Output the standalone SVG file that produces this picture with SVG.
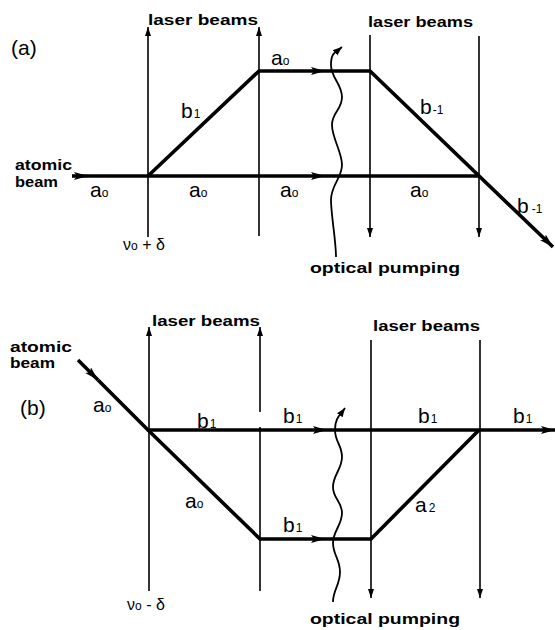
<svg xmlns="http://www.w3.org/2000/svg" width="555" height="630" viewBox="0 0 555 630">
<style>
text{font-family:"Liberation Sans",Arial,sans-serif;fill:#000}
.lb{font-weight:bold;font-size:15px}
.ab{font-weight:bold;font-size:14px}
.sym{font-size:21px}
.sub{font-size:12px}
.pl{font-size:21px}
.nu{font-size:16px}
.laser{stroke:#000;stroke-width:1.6;fill:none}
.beam{stroke:#000;stroke-width:3.6;fill:none;stroke-linecap:butt}
.wave{stroke:#000;stroke-width:1.8;fill:none}
</style>
<defs>
<marker id="la" markerUnits="userSpaceOnUse" markerWidth="10" markerHeight="7" refX="9" refY="3" orient="auto"><path d="M0,0 L9,3 L0,6 z" fill="#000"/></marker>
<marker id="ba" markerUnits="userSpaceOnUse" markerWidth="15" markerHeight="9" refX="14" refY="4" orient="auto"><path d="M0,0 L14,4 L0,8 L3,4 z" fill="#000"/></marker>
<marker id="wa" markerUnits="userSpaceOnUse" markerWidth="10" markerHeight="8" refX="9" refY="3.5" orient="auto"><path d="M0,0 L9,3.5 L0,7 z" fill="#000"/></marker>
</defs>

<g id="panel-a">
  <g id="a-lasers">
    <line class="laser" x1="148" y1="237" x2="148" y2="27" marker-end="url(#la)"/>
    <line class="laser" x1="259" y1="236" x2="259" y2="27" marker-end="url(#la)"/>
    <line class="laser" x1="370" y1="35" x2="370" y2="237" marker-end="url(#la)"/>
    <line class="laser" x1="479" y1="36" x2="479" y2="237" marker-end="url(#la)"/>
  </g>
  <g id="a-beams">
    <path class="beam" d="M72,176 L88,176" marker-end="url(#ba)"/>
    <path class="beam" d="M88,176 L325,176" marker-end="url(#ba)"/>
    <path class="beam" d="M325,176 L479,176"/>
    <path class="beam" d="M148,176 L259,71 L325,71" marker-end="url(#ba)"/>
    <path class="beam" d="M325,71 L370,71 L553,247" marker-end="url(#ba)"/>
    <path class="wave" d="M336,257 C336,240 331,215 331,200 S342,178 342,165 S332,138 332,125 S342,110 342,97 S331,78 331,65 S336,52 342,47" marker-end="url(#wa)"/>
  </g>
  <g id="a-labels">
    <text class="pl" x="11" y="55">(a)</text>
    <text class="lb" x="148" y="25" textLength="110" lengthAdjust="spacingAndGlyphs">laser beams</text>
    <text class="lb" x="368" y="27" textLength="105" lengthAdjust="spacingAndGlyphs">laser beams</text>
    <text class="ab" x="15" y="170" textLength="57" lengthAdjust="spacingAndGlyphs">atomic</text>
    <text class="ab" x="15" y="187" textLength="43" lengthAdjust="spacingAndGlyphs">beam</text>
    <text class="sym" x="90" y="197">a<tspan class="sub">o</tspan></text>
    <text class="sym" x="189" y="197">a<tspan class="sub">o</tspan></text>
    <text class="sym" x="280" y="197">a<tspan class="sub">o</tspan></text>
    <text class="sym" x="410" y="197">a<tspan class="sub">o</tspan></text>
    <text class="sym" x="271" y="65">a<tspan class="sub">o</tspan></text>
    <text class="sym" x="181" y="118">b<tspan class="sub" dx="1">1</tspan></text>
    <text class="sym" x="420" y="114">b<tspan class="sub" dx="1">-1</tspan></text>
    <text class="sym" x="517" y="213">b<tspan class="sub" dx="3">-1</tspan></text>
    <text class="nu" x="123" y="250">ν<tspan class="sub">o</tspan> + δ</text>
    <text class="lb" x="310" y="273" textLength="150" lengthAdjust="spacingAndGlyphs">optical pumping</text>
  </g>
</g>

<g id="panel-b">
  <g id="b-lasers">
    <line class="laser" x1="149" y1="591" x2="149" y2="327" marker-end="url(#la)"/>
    <line class="laser" x1="260" y1="591" x2="260" y2="427"/>
    <line class="laser" x1="260" y1="412" x2="260" y2="327" marker-end="url(#la)"/>
    <line class="laser" x1="371" y1="340" x2="371" y2="598" marker-end="url(#la)"/>
    <line class="laser" x1="480" y1="340" x2="480" y2="598" marker-end="url(#la)"/>
  </g>
  <g id="b-beams">
    <path class="beam" d="M78,360 L98,380" marker-end="url(#ba)"/>
    <path class="beam" d="M98,380 L148,430 L327,430" marker-end="url(#ba)"/>
    <path class="beam" d="M327,430 L555,430" marker-end="url(#ba)"/>
    <path class="beam" d="M148,430 L260,539 L325,539" marker-end="url(#ba)"/>
    <path class="beam" d="M325,539 L371,539 L479,430"/>
    <path class="wave" d="M333,602 C333,590 340,585 340,572 S333,555 333,543 S342,525 342,513 S333,499 333,487 S342,469 342,457 S335,442 335,430 S340,415 345,408" marker-end="url(#wa)"/>
  </g>
  <g id="b-labels">
    <text class="pl" x="20" y="415">(b)</text>
    <text class="lb" x="152" y="326" textLength="108" lengthAdjust="spacingAndGlyphs">laser beams</text>
    <text class="lb" x="373" y="331" textLength="107" lengthAdjust="spacingAndGlyphs">laser beams</text>
    <text class="ab" x="10" y="352" textLength="62" lengthAdjust="spacingAndGlyphs">atomic</text>
    <text class="ab" x="10" y="368" textLength="45" lengthAdjust="spacingAndGlyphs">beam</text>
    <text class="sym" x="93" y="412">a<tspan class="sub">o</tspan></text>
    <text class="sym" x="197" y="428">b<tspan class="sub" dx="1">1</tspan></text>
    <text class="sym" x="283" y="423">b<tspan class="sub" dx="1">1</tspan></text>
    <text class="sym" x="418" y="423">b<tspan class="sub" dx="1">1</tspan></text>
    <text class="sym" x="513" y="423">b<tspan class="sub" dx="1">1</tspan></text>
    <text class="sym" x="283" y="532">b<tspan class="sub" dx="1">1</tspan></text>
    <text class="sym" x="185" y="508">a<tspan class="sub">o</tspan></text>
    <text class="sym" x="415" y="512">a<tspan class="sub" dx="2">2</tspan></text>
    <text class="nu" x="127" y="610">ν<tspan class="sub">o</tspan> - δ</text>
    <text class="lb" x="310" y="624" textLength="150" lengthAdjust="spacingAndGlyphs">optical pumping</text>
  </g>
</g>
</svg>
